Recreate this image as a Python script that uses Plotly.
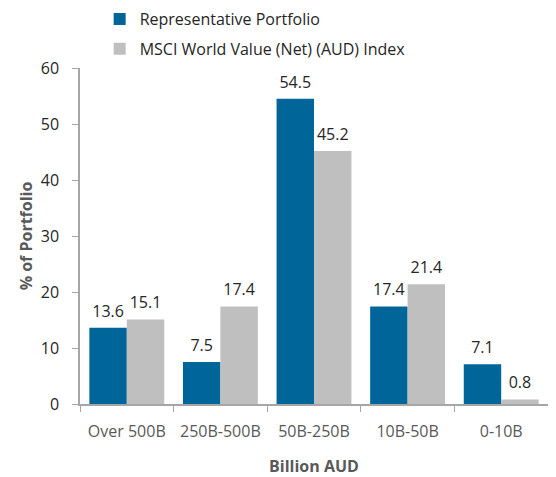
import plotly.graph_objects as go

categories = ["Over 500B", "250B-500B", "50B-250B", "10B-50B", "0-10B"]
portfolio = [13.6, 7.5, 54.5, 17.4, 7.1]
index_vals = [15.1, 17.4, 45.2, 21.4, 0.8]
y_ticks = [0, 10, 20, 30, 40, 50, 60]

font_family = "Open Sans, Noto Sans, sans-serif"
BLUE = "#006699"
GRAY = "#BFBFBF"

fig = go.Figure()
series = [
    ("Representative Portfolio", portfolio, BLUE, "g1"),
    ("MSCI World Value (Net) (AUD) Index", index_vals, GRAY, "g2"),
]
for name, vals, color, grp in series:
    fig.add_trace(go.Bar(
        x=categories, y=vals, name=name, legendgroup=grp,
        marker=dict(color=color, line=dict(width=0)),
        offsetgroup=grp,
    ))
for name, vals, color, grp in series:
    fig.add_trace(go.Scatter(
        x=categories, y=vals, mode="markers+text", showlegend=False,
        offsetgroup=grp, legendgroup=grp,
        marker=dict(size=10, opacity=0),
        text=[f"{v:.1f}" for v in vals], textposition="top center",
        textfont=dict(size=16, color="#262626", family=font_family),
        cliponaxis=False, hoverinfo="skip",
    ))

# page body has an 8px default margin; figure sized to fill the remaining window
fig.update_layout(
    width=548, height=469,
    margin=dict(l=72, r=8, t=60, b=72.5, autoexpand=False),
    paper_bgcolor="white", plot_bgcolor="white",
    font=dict(family=font_family, size=16, color="#595959"),
    barmode="group", bargap=0.2, bargroupgap=0,
    scattermode="group", scattergap=0.2,
    showlegend=True,
    legend=dict(
        x=0.042, y=1.196, xanchor="left", yanchor="top",
        orientation="v", font=dict(size=16, color="#262626"),
        itemwidth=30, tracegroupgap=6, bgcolor="rgba(0,0,0,0)",
    ),
    xaxis=dict(
        title=dict(text="<b>Billion AUD</b>", font=dict(size=16, color="#595959"), standoff=28),
        showline=True, linecolor="#A6A6A6", linewidth=1.5,
        ticks="outside", ticklen=6, tickcolor="#A6A6A6",
        tickson="boundaries", showgrid=False, tickangle=0,
        ticklabelstandoff=12,
        tickfont=dict(size=16, color="#595959"),
    ),
    yaxis=dict(
        title=dict(text="<b>% of Portfolio</b>", font=dict(size=16, color="#595959"), standoff=4),
        range=[0, 60], tickvals=y_ticks,
        showline=True, linecolor="#A6A6A6", linewidth=1.5,
        ticks="outside", ticklen=6, tickcolor="#A6A6A6",
        showgrid=False, zeroline=False, ticklabelstandoff=10,
        tickfont=dict(size=16, color="#262626"),
    ),
)

fig.write_html("out.html")
